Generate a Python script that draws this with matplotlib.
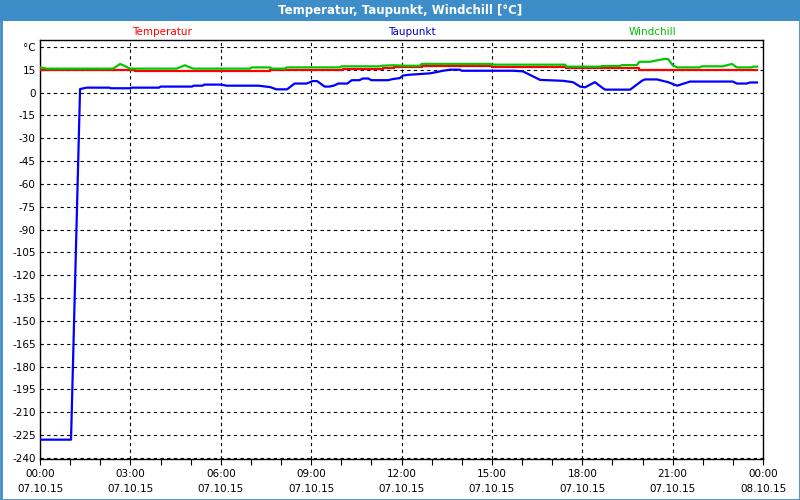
import matplotlib
matplotlib.use("Agg")
import matplotlib.pyplot as plt
from matplotlib.patches import Rectangle
from matplotlib.ticker import MultipleLocator, FixedLocator

# time axis in hours since 07.10.15 00:00
tick_hours = [0, 3, 6, 9, 12, 15, 18, 21, 24]
tick_labels = ["00:00\n07.10.15", "03:00\n07.10.15", "06:00\n07.10.15",
               "09:00\n07.10.15", "12:00\n07.10.15", "15:00\n07.10.15",
               "18:00\n07.10.15", "21:00\n07.10.15", "00:00\n08.10.15"]
y_ticks = list(range(-240, 31, 15))
y_labels = [str(v) for v in y_ticks[:-1]] + ["°C"]

# Temperatur (step values)
temp_h = [0, 3.15, 7.65, 8.6, 10.05, 11.4, 11.75, 12.68, 15.0, 17.45, 19.9, 23.8]
temp_v = [14.6, 14.0, 14.5, 15.0, 15.5, 16.2, 16.8, 17.7, 17.0, 16.1, 15.0, 15.0]

# Windchill
wind_h = [0, 0.22, 2.43, 2.66, 2.99, 4.54, 4.81, 5.08, 6.97, 7.03, 7.63, 7.69,
          8.13, 8.19, 9.96, 10.01, 11.29, 11.34, 11.72, 12.17, 12.61, 12.67,
          14.94, 15.0, 17.43, 17.48, 18.59, 18.65, 19.25, 19.31, 19.81, 19.9,
          20.25, 20.45, 20.75, 20.85, 21.01, 21.15, 21.91, 21.96, 22.67, 22.97,
          23.13, 23.63, 23.67, 23.8]
wind_v = [16.5, 15.7, 15.7, 18.8, 15.7, 15.7, 17.9, 15.7, 15.7, 16.5, 16.5, 15.7,
          15.7, 16.5, 16.5, 17.2, 17.2, 17.6, 17.9, 17.6, 17.6, 18.8,
          18.8, 18.3, 18.3, 17.0, 17.0, 17.4, 17.4, 18.0, 18.0, 20.2,
          20.2, 21.0, 22.1, 22.0, 17.7, 16.5, 16.5, 17.2, 17.2, 18.8,
          16.5, 16.5, 17.0, 17.0]

# Taupunkt
dew_h = [0.0, 1.03, 1.33, 1.55, 2.30, 2.35, 3.00, 3.05, 3.95, 4.00, 5.05, 5.10,
         5.40, 5.45, 6.0, 6.2, 7.25, 7.5, 7.65, 7.85, 8.20, 8.45, 8.85, 9.05,
         9.20, 9.45, 9.60, 9.75, 9.90, 10.20, 10.35, 10.6, 10.72, 10.9, 11.0,
         11.55, 11.7, 11.95, 12.05, 12.28, 12.95, 13.38, 13.61, 13.94, 14.0,
         15.7, 16.03, 16.6, 17.36, 17.69, 17.93, 18.09, 18.42, 18.69, 18.76,
         19.59, 19.98, 20.08, 20.48, 20.85, 21.15, 21.58, 23.0, 23.13, 23.46,
         23.57, 23.8]
dew_v = [-228, -228, 2.3, 3.2, 3.2, 2.8, 2.8, 3.2, 3.2, 3.9, 3.9, 4.5,
         4.5, 5.2, 5.2, 4.5, 4.5, 3.9, 3.5, 2.1, 2.1, 5.9, 5.9, 7.5,
         7.5, 3.9, 3.9, 4.5, 5.9, 5.9, 8.1, 8.1, 9.2, 9.2, 8.1,
         8.1, 8.8, 9.5, 11.2, 11.7, 12.6, 14.3, 15.0, 15.0, 14.3,
         14.3, 13.9, 8.3, 7.7, 6.8, 3.9, 3.4, 6.8, 2.8, 1.9,
         1.9, 7.7, 8.6, 8.6, 6.8, 4.5, 7.2, 7.2, 5.9, 5.9,
         6.6, 6.6]

plt.rcParams['font.family'] = ['DejaVu Sans']

fig = plt.figure(figsize=(8, 5), dpi=100)
fig.patch.set_facecolor("white")

bar_color = "#3d8ec8"
# title bar and window border
fig.patches.append(Rectangle((0, 1 - 21 / 500), 1, 21 / 500, transform=fig.transFigure,
                             facecolor=bar_color, edgecolor="none", zorder=0))
fig.patches.append(Rectangle((0.5 / 800, 0.5 / 500), 799 / 800, 499 / 500, transform=fig.transFigure,
                             facecolor="none", edgecolor=bar_color, lw=2, zorder=0))
fig.text(0.5, 1 - 10.5 / 500, "Temperatur, Taupunkt, Windchill [°C]", color="white",
         fontsize=8.5, fontweight="bold", ha="center", va="center")

fig.text(162 / 800, 1 - 32 / 500, "Temperatur", color="#ff0000", fontsize=7.5, ha="center", va="center")
fig.text(412 / 800, 1 - 32 / 500, "Taupunkt", color="#0000c8", fontsize=7.5, ha="center", va="center")
fig.text(652 / 800, 1 - 32 / 500, "Windchill", color="#00c000", fontsize=7.5, ha="center", va="center")

ax = fig.add_axes([40 / 800, 41 / 500, 723 / 800, 419 / 500])
ax.set_facecolor("white")

ax.plot(temp_h, temp_v, color="#ff0000", lw=1.6, drawstyle="steps-post", zorder=3)
ax.plot(wind_h, wind_v, color="#00c800", lw=1.6, zorder=4)
ax.plot(dew_h, dew_v, color="#0000ff", lw=1.6, zorder=5)

ax.set_xlim(0, 24)
ax.set_ylim(-240.7, 34.5)

ax.xaxis.set_major_locator(FixedLocator(tick_hours))
ax.xaxis.set_minor_locator(MultipleLocator(1))
ax.set_xticklabels(tick_labels, fontsize=7.5, linespacing=1.7)
ax.set_yticks(y_ticks)
ax.set_yticklabels(y_labels, fontsize=7.5)

ax.tick_params(axis="x", which="both", direction="out", length=4, width=0.8, pad=3)
ax.tick_params(axis="y", length=0, pad=3)

ax.grid(True, which="major", color="black", linestyle=(0, (3, 3)), lw=0.8)
for s in ax.spines.values():
    s.set_color("black")
    s.set_linewidth(1.0)

fig.savefig("out.png", dpi=100)
